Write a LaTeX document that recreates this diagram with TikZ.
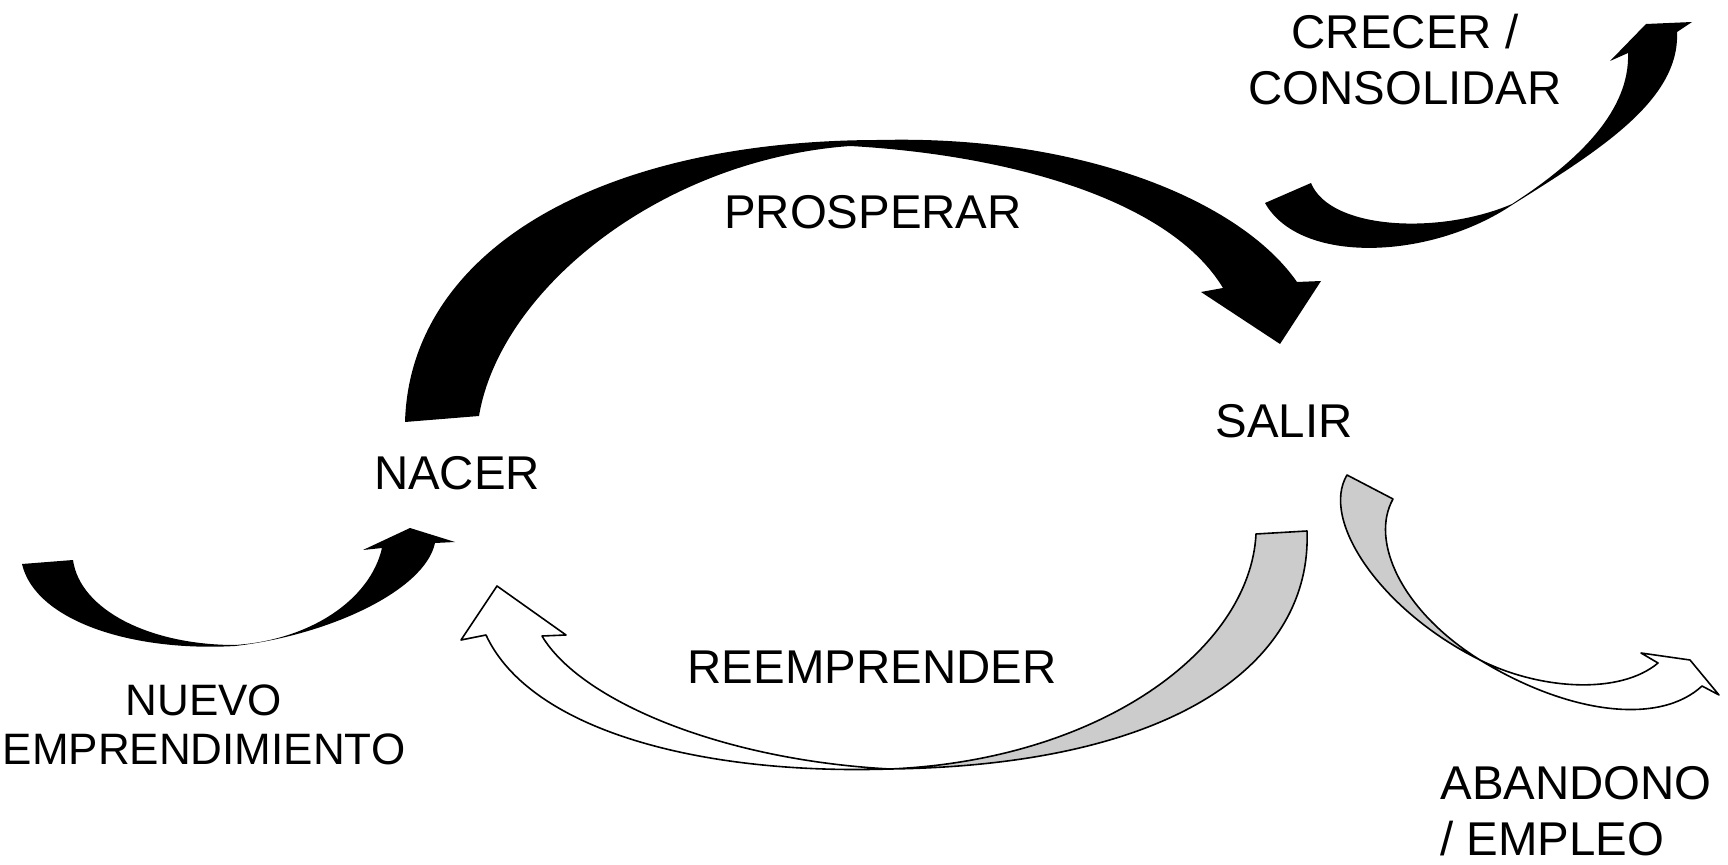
\documentclass[tikz,border=0pt]{standalone}
\usepackage{fontspec}
\setmainfont{Liberation Sans}

\begin{document}
\begin{tikzpicture}[x=0.5pt, y=-0.5pt,
  lbl/.style={font=\fontsize{23.7}{28}\selectfont, inner sep=0pt, align=center},
  blackarr/.style={fill=black},
  backarr/.style={fill=black!20, draw=black, line width=0.8pt, line join=round},
  frontarr/.style={fill=white, draw=black, line width=0.8pt, line join=round}]

\useasboundingbox (0,0) rectangle (1728,865);

% stages
\node[lbl] (nacer) at (457,473) {NACER};
\node[lbl] (salir) at (1284,421) {SALIR};
\node[lbl] (prosperar) at (873,212) {PROSPERAR};
\node[lbl] (reemprender) at (872,667) {REEMPRENDER};
\node[lbl, font=\fontsize{22}{24.8}\selectfont] (nuevo) at (204,725) {NUEVO\\EMPRENDIMIENTO};
\node[lbl] (crecer) at (1405,60) {CRECER /\\CONSOLIDAR};
\node[lbl, anchor=west, align=left] (abandono) at (1440,811) {ABANDONO\\/ EMPLEO};

% nacer -> salir
\fill[blackarr] (405,422) .. controls (410,250) and (600,140) .. (880,140)
  .. controls (1080,135) and (1240,200) .. (1297,282)
  -- (1321,281) -- (1280,344) -- (1201,292) -- (1223,288)
  .. controls (1170,200) and (1010,155) .. (850,146)
  .. controls (660,160) and (500,290) .. (479,416) -- cycle;

% nuevo emprendimiento -> nacer
\fill[blackarr] (22,564) .. controls (35,620) and (130,652) .. (235,646)
  .. controls (330,635) and (425,590) .. (435,543)
  -- (455,542) -- (410,528) -- (363,550) -- (382,548)
  .. controls (370,600) and (310,640) .. (235,645)
  .. controls (150,645) and (80,610) .. (73,560) -- cycle;

% salir -> crecer
\fill[blackarr] (1265,203) .. controls (1300,265) and (1430,260) .. (1512,205)
  .. controls (1600,150) and (1680,100) .. (1677,32)
  -- (1692,22) -- (1646,24) -- (1610,61) -- (1628,53)
  .. controls (1630,110) and (1580,160) .. (1512,204)
  .. controls (1440,235) and (1330,230) .. (1311,183) -- cycle;

% salir -> nacer (reemprender)
\filldraw[backarr] (1256,534) -- (1307,531)
  .. controls (1312,660) and (1180,765) .. (890,769)
  .. controls (1100,760) and (1250,650) .. (1256,534) -- cycle;
\filldraw[frontarr] (486,635) .. controls (530,730) and (700,775) .. (890,769)
  .. controls (720,760) and (580,700) .. (542,636)
  -- (566,635) -- (497,586) -- (461,640) -- cycle;

% salir -> abandono
\filldraw[backarr] (1347,475) -- (1393,499)
  .. controls (1370,540) and (1400,610) .. (1480,660)
  .. controls (1380,610) and (1320,520) .. (1347,475) -- cycle;
\filldraw[frontarr] (1480,660) .. controls (1540,690) and (1620,695) .. (1658,663)
  -- (1641,653) -- (1690,660) -- (1719,695) -- (1702,686)
  .. controls (1660,725) and (1570,715) .. (1480,660) -- cycle;
\end{tikzpicture}
\end{document}
